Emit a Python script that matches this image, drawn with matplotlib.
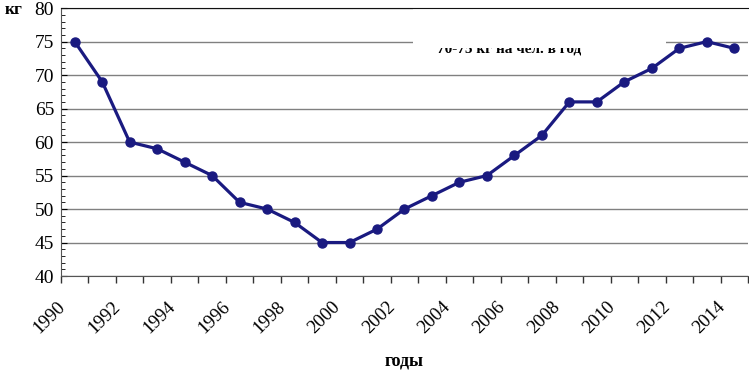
import matplotlib.pyplot as plt
from matplotlib.patches import Rectangle
from matplotlib.ticker import MultipleLocator

years = list(range(1990, 2015))
values = [75, 69, 60, 59, 57, 55, 51, 50, 48, 45, 45, 47, 50,
          52, 54, 55, 58, 61, 66, 66, 69, 71, 74, 75, 74]
year_labels = [str(y) for y in years[::2]]

plt.rcParams["font.family"] = ["Liberation Serif", "DejaVu Serif"]

fig = plt.figure(figsize=(7.49, 3.70), dpi=100)
ax = fig.add_axes([0.0814, 0.254, 0.9173, 0.724])

x = list(range(len(years)))
ax.plot(x, values, color="#1a1a80", linewidth=2.3, marker="o",
        markersize=6.5, zorder=5)

ax.set_xlim(-0.5, len(years) - 0.5)
ax.set_ylim(40, 80)

# category axis: ticks on boundaries, labels on centres
ax.set_xticks([i - 0.5 for i in range(len(years) + 1)])
ax.set_xticklabels([])
ax.tick_params(axis="x", direction="out", length=5, width=1, color="#333333")
for i, lab in zip(x[::2], year_labels):
    ax.text(i - 0.65, 36.6, lab, rotation=45, ha="right", va="top",
            rotation_mode="anchor", fontsize=13.5)

ax.yaxis.set_major_locator(MultipleLocator(5))
ax.yaxis.set_minor_locator(MultipleLocator(1))
ax.tick_params(axis="y", which="major", direction="in", length=4,
               labelsize=14, pad=5)
ax.tick_params(axis="y", which="minor", direction="in", length=3)
ax.grid(axis="y", color="#808080", linewidth=1)

ax.spines["right"].set_visible(False)
ax.spines["left"].set_color("#555555")
ax.spines["bottom"].set_color("#555555")
ax.spines["top"].set_color("#111111")

# pasted white box over the top of the chart
ax.add_patch(Rectangle((12.3, 71.5), 9.2, 10.0, facecolor="white",
                       edgecolor="none", zorder=2.5, clip_on=False))
ax.add_patch(Rectangle((12.3, 78.0), 12.5, 3.7, facecolor="white",
                       edgecolor="none", zorder=2.5, clip_on=False))
ax.text(13.2, 73.4, "70-75 кг на чел. в год", fontsize=11,
        fontweight="bold", ha="left", va="baseline", zorder=3)
ax.add_patch(Rectangle((12.9, 74.0), 6.5, 3.0, facecolor="white",
                       edgecolor="none", zorder=3.5))

fig.text(0.006, 0.972, "кг", fontsize=12.5, fontweight="bold",
         ha="left", va="center")
fig.text(0.513, 0.025, "годы", fontsize=13, fontweight="bold",
         ha="left", va="center")

fig.savefig("out.png", dpi=100)
